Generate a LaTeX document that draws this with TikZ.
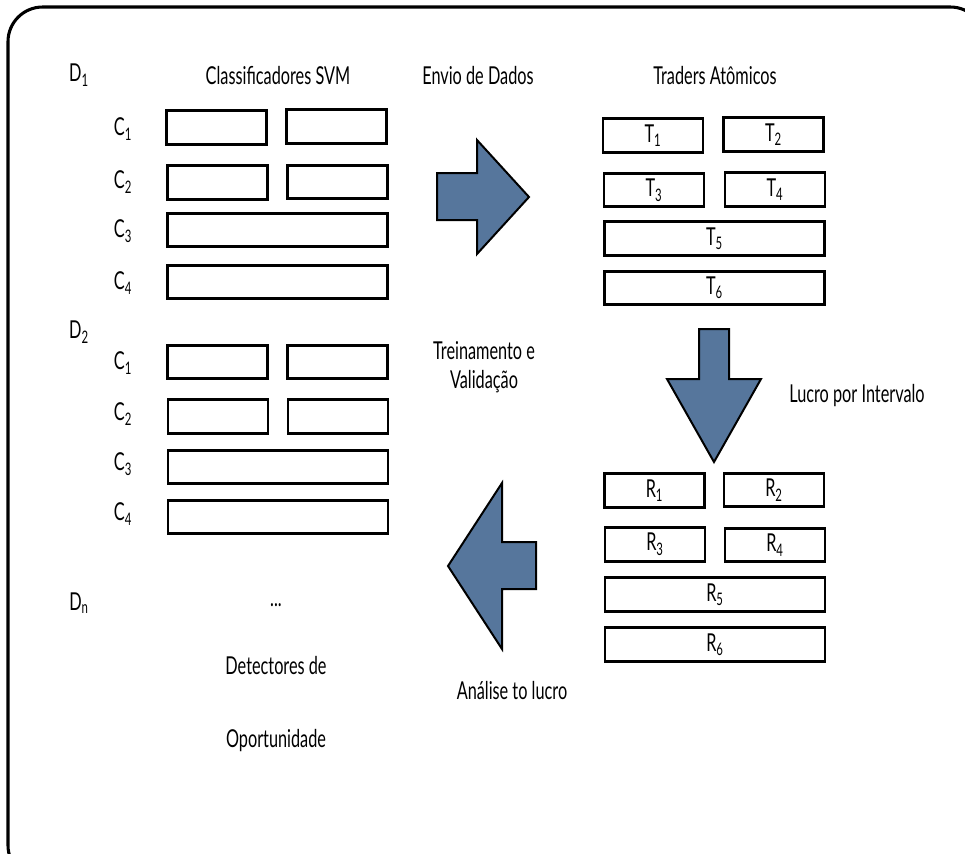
\documentclass[tikz,border=0pt]{standalone}
\usepackage{fontspec}
\setmainfont{Lato}[FakeStretch=0.66]
\usepackage{tikz}
\definecolor{steelblue}{RGB}{86,118,156}
\tikzset{
  lbl/.style={font=\fontsize{18.5}{21}\selectfont, inner sep=0pt},
  halfbox/.style={draw, line width=2.1pt, minimum width=75pt, minimum height=25pt, inner sep=0pt, font=\fontsize{18.5}{21}\selectfont},
  fullbox/.style={draw, line width=2.1pt, minimum width=165pt, minimum height=25pt, inner sep=0pt, font=\fontsize{18.5}{21}\selectfont},
  bigarrow/.style={draw, line width=1.5pt, fill=steelblue, line join=miter}
}
\newcommand{\ix}[1]{\textsubscript{#1}}

\begin{document}
\begin{tikzpicture}[x=0.75pt,y=0.75pt,yscale=-1,xscale=1]
\useasboundingbox (0,0) rectangle (965,854);
\clip (0,0) rectangle (965,854);

% Frame
\draw [line width=2.3pt, rounded corners=26pt] (8,7) rectangle (985,880);

% Text Node
\node [lbl] (d1) at (79,75) {D\ix{1}};
% Text Node
\node [lbl] (svm) at (278,76) {Classificadores SVM};
% Text Node
\node [lbl] (envio) at (478,76) {Envio de Dados};
% Text Node
\node [lbl] (traders) at (715,76) {Traders Atômicos};

% Text Node
\node [lbl] (c11) at (123,129) {C\ix{1}};
\node [lbl] (c12) at (123,182) {C\ix{2}};
\node [lbl] (c13) at (123,231) {C\ix{3}};
\node [lbl] (c14) at (123,283) {C\ix{4}};

% Boxes D1
\node [halfbox] (b11a) at (216.5,127.5) {};
\node [halfbox] (b11b) at (336.5,126.5) {};
\node [halfbox] (b12a) at (217.5,182.5) {};
\node [halfbox] (b12b) at (337.5,182) {};
\node [fullbox] (b13) at (277.5,230) {};
\node [fullbox] (b14) at (277.5,282) {};

% Text Node
\node [lbl] (d2) at (79,332) {D\ix{2}};
\node [lbl] (c21) at (123,363) {C\ix{1}};
\node [lbl] (c22) at (123,414) {C\ix{2}};
\node [lbl] (c23) at (123,464) {C\ix{3}};
\node [lbl] (c24) at (123,514) {C\ix{4}};

% Boxes D2
\node [halfbox] (b21a) at (217.5,362) {};
\node [halfbox] (b21b) at (337.5,362) {};
\node [halfbox] (b22a) at (218,416.5) {};
\node [halfbox] (b22b) at (338,416.5) {};
\node [fullbox] (b23) at (278,467) {};
\node [fullbox] (b24) at (278,517) {};

% Text Node
\node [lbl] (dn) at (79,603) {D\ix{n}};
\node [lbl] (dots) at (276,605) {...};
\node [lbl] (det) at (276,666) {Detectores de};
\node [lbl] (oport) at (276,741) {Oportunidade};

% Traders
\node [halfbox] (t1) at (653,135.5) {T\ix{1}};
\node [halfbox] (t2) at (773.5,134.5) {T\ix{2}};
\node [halfbox] (t3) at (654,190) {T\ix{3}};
\node [halfbox] (t4) at (775,189.5) {T\ix{4}};
\node [fullbox] (t5) at (714.5,238.5) {T\ix{5}};
\node [fullbox] (t6) at (714.5,288) {T\ix{6}};

% Results
\node [halfbox] (r1) at (654.5,490.5) {R\ix{1}};
\node [halfbox] (r2) at (774,490) {R\ix{2}};
\node [halfbox] (r3) at (655,544.5) {R\ix{3}};
\node [halfbox] (r4) at (775,545) {R\ix{4}};
\node [fullbox] (r5) at (715,594.5) {R\ix{5}};
\node [fullbox] (r6) at (715,644.5) {R\ix{6}};

% Text Node
\node [lbl] (trein) at (484,351) {Treinamento e};
\node [lbl] (valid) at (484,382) {Validação};
% Text Node
\node [lbl] (lucro) at (857,396) {Lucro por Intervalo};
% Text Node
\node [lbl] (analise) at (512,691) {Análise to lucro};

% Block arrows
\draw [bigarrow] (437,173) -- (477,173) -- (477,140) -- (529,197) -- (477,254) -- (477,220) -- (437,220) -- cycle;
\draw [bigarrow] (699,329) -- (729,329) -- (729,379) -- (761,379) -- (714,462) -- (667,379) -- (699,379) -- cycle;
\draw [bigarrow] (536,542) -- (502,542) -- (502,483) -- (448,566) -- (502,649) -- (502,589) -- (536,589) -- cycle;

\end{tikzpicture}
\end{document}
